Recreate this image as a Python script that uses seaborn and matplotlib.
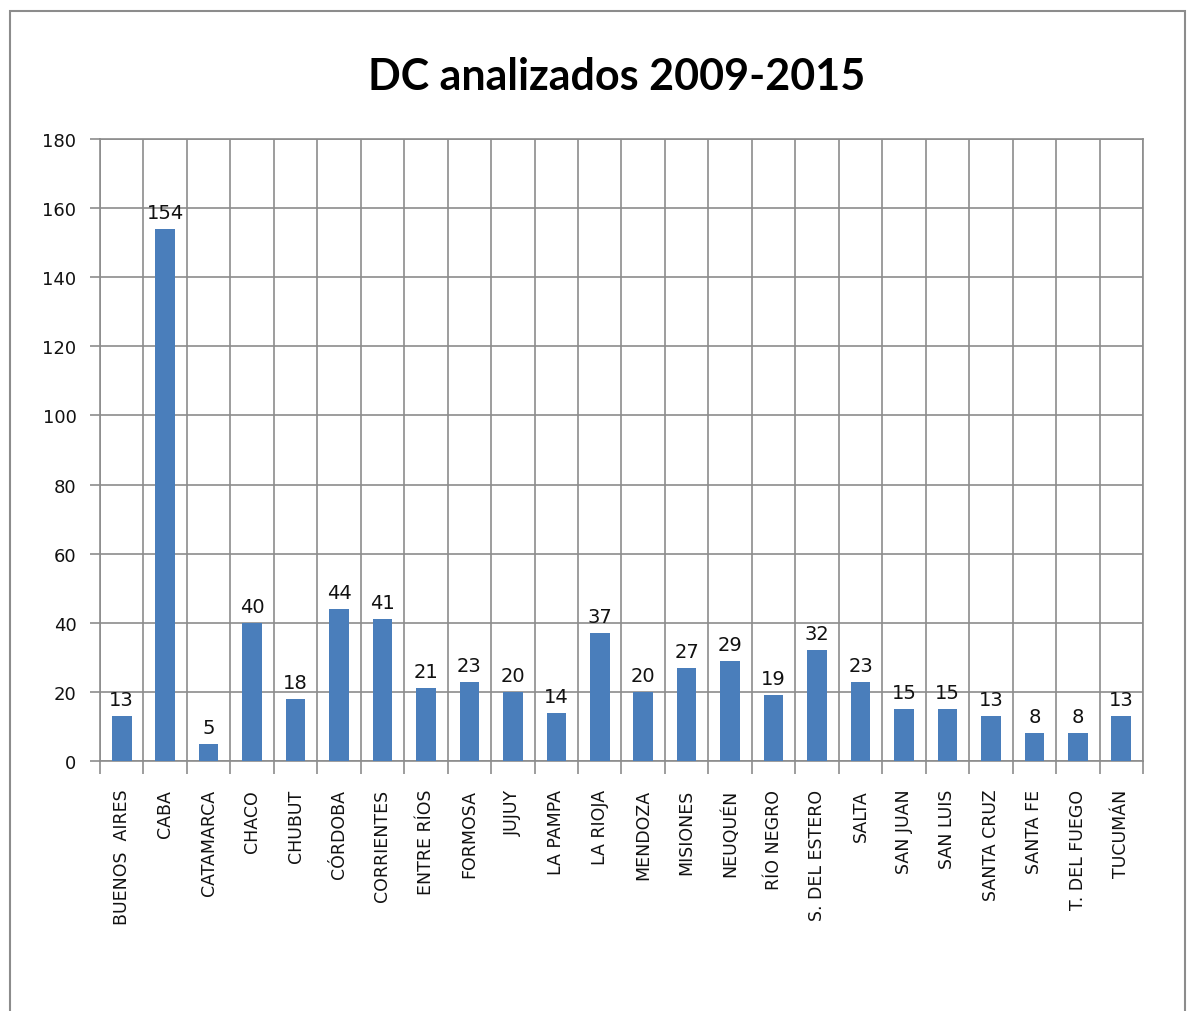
import matplotlib
matplotlib.use("Agg")
import matplotlib.pyplot as plt
import seaborn as sns
import pandas as pd
import numpy as np
from matplotlib.patches import Rectangle
from matplotlib.ticker import FixedLocator

provincias = ["BUENOS  AIRES", "CABA", "CATAMARCA", "CHACO", "CHUBUT", "CÓRDOBA",
              "CORRIENTES", "ENTRE RÍOS", "FORMOSA", "JUJUY", "LA PAMPA", "LA RIOJA",
              "MENDOZA", "MISIONES", "NEUQUÉN", "RÍO NEGRO", "S. DEL ESTERO", "SALTA",
              "SAN JUAN", "SAN LUIS", "SANTA CRUZ", "SANTA FE", "T. DEL FUEGO", "TUCUMÁN"]
valores = [13, 154, 5, 40, 18, 44, 41, 21, 23, 20, 14, 37, 20, 27, 29, 19, 32, 23,
           15, 15, 13, 8, 8, 13]
titulo = "DC analizados 2009-2015"
y_ticks = [0, 20, 40, 60, 80, 100, 120, 140, 160, 180]

sns.set_theme(style="white")
plt.rcParams['font.family'] = ['DejaVu Sans']

df = pd.DataFrame({"provincia": provincias, "valor": valores})

fig = plt.figure(figsize=(11.95, 10.12), dpi=100)
ax = fig.add_axes([100/1195, 1 - 762/1012, (1143-100)/1195, (762-140)/1012])

sns.barplot(data=df, x="provincia", y="valor", color="#4a7ebb", width=0.45,
            saturation=1, ax=ax, zorder=3, linewidth=0)

grid_c = "#8c8c8c"
txt_c = "#111111"
ax.set_ylim(0, 180)
ax.set_xlim(-0.5, len(provincias) - 0.5)
ax.set_yticks(y_ticks)
ax.set_yticklabels([str(v) for v in y_ticks], fontsize=13, color=txt_c)
ax.set_xticks(range(len(provincias)))
ax.set_xticklabels(provincias, rotation=90, fontsize=12.5, color=txt_c)
ax.tick_params(axis="x", length=0, pad=20)
ax.tick_params(axis="y", length=7, width=1.2, color=grid_c, left=True, pad=10)
ax.xaxis.set_minor_locator(FixedLocator(np.arange(-0.5, len(provincias), 1.0)))
ax.tick_params(axis="x", which="minor", length=9, width=1.2, color=grid_c, bottom=True)
ax.grid(axis="y", which="major", color=grid_c, linewidth=1.2, zorder=0)
ax.grid(axis="x", which="minor", color=grid_c, linewidth=1.2, zorder=0)
ax.set_axisbelow(True)
for s in ax.spines.values():
    s.set_color(grid_c)
    s.set_linewidth(1.2)
ax.set_xlabel("")
ax.set_ylabel("")

for i, v in enumerate(valores):
    ax.annotate(str(v), (i, v), xytext=(0, 5), textcoords="offset points",
                ha="center", va="bottom", fontsize=14, color=txt_c)

fig.text(617/1195, 1 - 77/1012, titulo, ha="center", va="center",
         fontsize=31, fontweight="bold", color="black", family=["Lato", "DejaVu Sans"])

fig.patches.append(Rectangle((10/1195, -0.05), (1185-10)/1195, 1 - 12/1012 + 0.05,
                             transform=fig.transFigure, fill=False,
                             edgecolor="#8c8c8c", linewidth=1.5))

fig.savefig("out.png", dpi=100, facecolor="white")
